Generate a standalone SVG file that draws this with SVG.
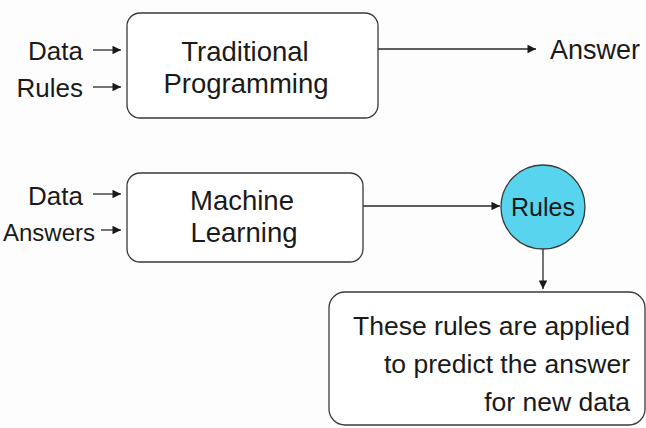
<svg xmlns="http://www.w3.org/2000/svg" width="646" height="428" viewBox="0 0 646 428">
<defs>
<marker id="ah" viewBox="0 0 10 10" refX="10" refY="5" markerWidth="10" markerHeight="8.5" markerUnits="userSpaceOnUse" orient="auto">
<path d="M0,0 L10,5 L0,10 z" fill="#1a1a1a"/>
</marker>
<style>
.t{font-family:"Liberation Sans",Arial,sans-serif;fill:#1a1a1a}
.lbl{font-size:26px;text-anchor:end}
.ttl{font-size:27.5px;text-anchor:middle}
.box{fill:#fff;stroke:#3a3a3a;stroke-width:1.3}
.con{stroke:#2a2a2a;stroke-width:1.3;fill:none;marker-end:url(#ah)}
</style>
</defs>
<rect width="646" height="428" fill="#fdfdfd"/>
<g id="connectors">
<line class="con" x1="93" y1="50" x2="121" y2="50"/>
<line class="con" x1="93" y1="87" x2="121" y2="87"/>
<line class="con" x1="378" y1="49" x2="536" y2="49"/>
<line class="con" x1="93" y1="194" x2="121" y2="194"/>
<line class="con" x1="101" y1="230" x2="121" y2="230"/>
<line class="con" x1="363" y1="206" x2="500" y2="206"/>
<line class="con" x1="543" y1="249" x2="543" y2="289"/>
</g>
<g id="input-data-1"><text class="t lbl" x="83" y="60">Data</text></g>
<g id="input-rules"><text class="t lbl" x="83" y="97">Rules</text></g>
<g id="traditional-programming">
<rect class="box" x="127" y="13" width="251" height="105" rx="13"/>
<text class="t ttl" x="245" y="61">Traditional</text>
<text class="t ttl" x="246" y="93">Programming</text>
</g>
<g id="output-answer"><text class="t" style="font-size:27px" x="550" y="59">Answer</text></g>
<g id="input-data-2"><text class="t lbl" x="83" y="205">Data</text></g>
<g id="input-answers"><text class="t lbl" style="font-size:24px" x="95" y="241">Answers</text></g>
<g id="machine-learning">
<rect class="box" x="127" y="173" width="236" height="89" rx="13"/>
<text class="t ttl" x="242" y="210">Machine</text>
<text class="t ttl" x="244" y="242">Learning</text>
</g>
<g id="rules-node">
<circle cx="543" cy="207" r="42" fill="#58d4ee" stroke="#3a3a3a" stroke-width="1.3"/>
<text class="t" style="font-size:25px;text-anchor:middle" x="543" y="216">Rules</text>
</g>
<g id="prediction">
<rect class="box" x="329" y="292" width="316" height="133" rx="16"/>
<text class="t lbl" style="font-size:26.5px" x="630" y="335">These rules are applied</text>
<text class="t lbl" style="font-size:26.5px" x="630" y="373">to predict the answer</text>
<text class="t lbl" style="font-size:26.5px" x="630" y="411">for new data</text>
</g>
</svg>
